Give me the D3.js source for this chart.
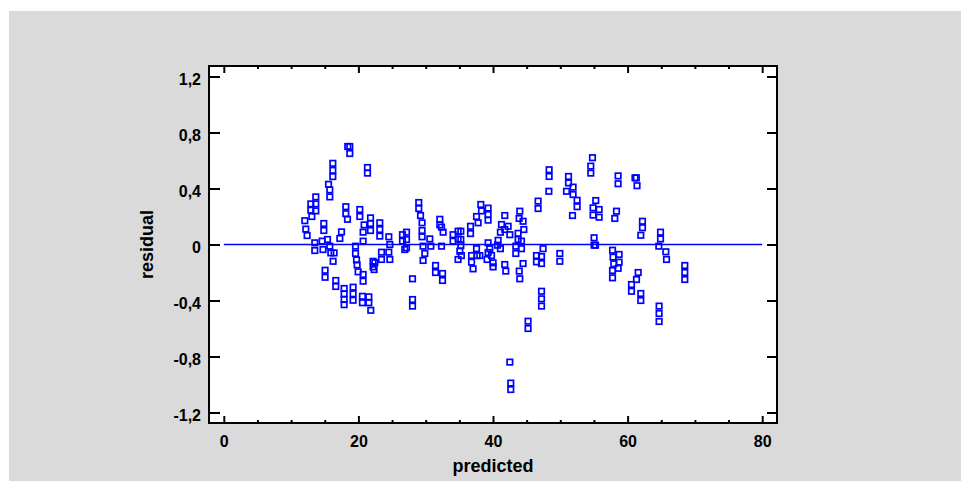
<!DOCTYPE html>
<html>
<head>
<meta charset="utf-8">
<script src="https://cdn.jsdelivr.net/npm/d3@7"></script>
<style>
  body { margin: 0; background: #fff; }
  svg { display: block; font-family: "Liberation Sans", Arial, sans-serif; }
  .tick text { font-weight: bold; font-size: 16px; fill: #000; }
</style>
</head>
<body>
<svg id="chart" width="961" height="481"></svg>
<script>
// Residuals vs predicted values (grouped left to right)
var predicted = [
  12.04, 12.18, 12.38, 12.93, 12.93, 13.08, 13.67, 13.67, 13.67, 13.52, 13.52,
  14.61, 15.41, 14.74, 15.75, 15.9, 16.39, 16.24, 14.86, 14.86, 15.05, 15.05, 15.56, 15.75, 15.75, 16.2, 16.2, 16.2, 16.64, 16.64,
  17.49, 17.24, 18.13, 18.13, 18.38, 18.42, 18.72, 18.72, 17.88, 17.88, 17.88, 17.88, 19.21, 19.21, 19.21,
  19.57, 19.57, 19.72, 19.81, 20.21, 20.21, 19.96, 20.7, 20.7, 20.85, 20.7, 20.7, 20.6, 20.6,
  21.35, 21.35, 21.55, 21.55, 21.84, 21.8, 21.8, 21.8, 22.18, 22.18, 22.44, 22.33,
  23.18, 23.18, 23.18, 24.52, 24.67, 24.52, 23.43, 23.43, 24.67,
  26.55, 26.55, 27.15, 27.15, 27.15, 26.89, 28.04, 28.04, 28.04,
  28.97, 28.97, 29.23, 29.46, 29.46, 29.46, 29.61, 29.87, 29.61, 30.61, 30.76, 31.46, 31.46, 32.5, 32.5, 32.1, 32.1, 32.35, 32.59, 32.35,
  34.07, 34.07, 34.81, 34.81, 35.22, 35.22, 35.22, 35.07, 34.81, 35.3,
  36.66, 36.66, 37.55, 37.79, 38.19, 38.29, 39.27, 39.27, 39.27, 37.55, 37.64, 36.81, 36.81, 37.04, 38.04,
  39.27, 39.52, 39.27, 39.78, 39.12, 40.01, 40.01, 40.76, 40.67, 41.1, 41.75, 41.26, 41.1, 41.75, 42.25, 42.5, 41.75, 41.9, 42.5, 42.64, 42.64,
  43.98, 43.88, 44.47, 44.58, 43.73, 43.73, 44.23, 44.23, 43.39, 43.39, 44.47, 43.9, 43.98, 45.21, 45.21,
  46.7, 46.7, 46.46, 46.46, 47.21, 47.21, 47.44, 47.21, 47.21, 47.21,
  48.34, 48.34, 48.3, 49.93, 49.93, 51.22, 51.22, 50.92, 51.9, 51.9, 52.5, 52.5, 51.81,
  54.78, 54.53, 54.53, 55.27, 54.87, 54.87, 55.77, 55.77, 55.02, 55.02, 55.23,
  58.59, 58.59, 58.35, 58.1, 57.76, 57.84, 57.95, 57.76, 57.76, 58.74, 58.74, 58.6,
  61.1, 61.3, 61.4, 62.21, 62.21, 61.96, 61.57, 61.32, 60.58, 60.58, 61.96, 61.96,
  64.89, 64.89, 64.64, 65.68, 65.78, 64.68, 64.68, 64.68,
  68.5, 68.5, 68.5
];
var residual = [
  0.17, 0.11, 0.064, 0.29, 0.245, 0.2, 0.34, 0.29, 0.24, 0.012, -0.043,
  0.024, 0.036, -0.036, -0.012, -0.06, -0.06, -0.12, 0.15, 0.1, -0.184, -0.234, 0.43, 0.39, 0.34, 0.58, 0.53, 0.485, -0.257, -0.3,
  0.09, 0.043, 0.27, 0.22, 0.18, 0.70, 0.70, 0.65, -0.314, -0.352, -0.393, -0.43, -0.305, -0.352, -0.398,
  -0.012, -0.064, -0.11, -0.146, 0.25, 0.2, -0.195, -0.214, -0.262, 0.14, 0.088, 0.024, -0.37, -0.416,
  0.55, 0.51, -0.374, -0.416, -0.47, 0.19, 0.15, 0.1, -0.12, -0.16, -0.13, -0.179,
  0.155, 0.107, 0.06, 0.055, 0.0, -0.055, -0.055, -0.107, -0.107,
  0.07, 0.024, 0.088, 0.036, -0.024, -0.036, -0.245, -0.393, -0.44,
  0.30, 0.257, 0.207, 0.155, 0.1, 0.055, -0.012, -0.064, -0.114, 0.04, -0.012, -0.15, -0.2, -0.207, -0.257, 0.18, 0.14, 0.124, 0.088, -0.012,
  0.07, 0.024, 0.095, 0.04, 0.095, 0.036, -0.007, -0.048, -0.107, -0.079,
  0.13, 0.078, 0.2, 0.155, 0.286, 0.24, 0.26, 0.214, 0.174, -0.03, -0.079, -0.079, -0.126, -0.174, -0.079,
  0.012, -0.03, -0.057, -0.079, -0.107, -0.131, -0.16, 0.03, -0.005, -0.03, 0.207, 0.143, 0.088, 0.107, 0.13, 0.07, -0.143, -0.19, -0.84, -0.99, -1.036,
  0.238, 0.186, 0.166, 0.107, 0.08, 0.036, 0.024, -0.03, -0.012, -0.064, -0.136, -0.19, -0.245, -0.548, -0.6,
  0.31, 0.257, -0.079, -0.124, -0.086, -0.136, -0.03, -0.334, -0.388, -0.44,
  0.534, 0.486, 0.38, -0.064, -0.12, 0.486, 0.44, 0.38, 0.41, 0.357, 0.316, 0.27, 0.207,
  0.62, 0.56, 0.51, 0.314, 0.262, 0.21, 0.25, 0.195, 0.048, -0.005, -0.005,
  0.49, 0.434, 0.238, 0.186, -0.041, -0.09, -0.138, -0.186, -0.238, -0.071, -0.126, -0.17,
  0.476, 0.476, 0.42, 0.166, 0.12, 0.066, -0.2, -0.25, -0.286, -0.334, -0.35, -0.4,
  0.088, 0.04, -0.012, -0.052, -0.107, -0.44, -0.493, -0.55,
  -0.15, -0.2, -0.25
];
var xTicks = [0, 20, 40, 60, 80];
var xMinorTicks = [5, 10, 15, 25, 30, 35, 45, 50, 55, 65, 70, 75];
var yTicks = [-1.2, -0.8, -0.4, 0, 0.4, 0.8, 1.2];
var xTitle = "predicted";
var yTitle = "residual";

var points = predicted.map(function(p, i) { return {x: p, y: residual[i]}; });

var svg = d3.select("#chart");
var pLeft = 209, pRight = 777, pTop = 66, pBottom = 423;

// grey panel behind everything
svg.append("rect")
  .attr("x", 9).attr("y", 11)
  .attr("width", 952).attr("height", 470)
  .attr("fill", "#dadada");

svg.append("rect")
  .attr("x", pLeft).attr("y", pTop)
  .attr("width", pRight - pLeft).attr("height", pBottom - pTop)
  .attr("fill", "#fff");

var x = d3.scaleLinear().domain([-2.2, 82.2]).range([pLeft, pRight]);
var y = d3.scaleLinear().domain([-1.275, 1.275]).range([pBottom, pTop]);

function fmtY(d) { return d === 0 ? "0" : d.toFixed(1).replace(".", ","); }
function fmtX(d) { return String(d); }

// axes, ticks point inward
var gl = svg.append("g").attr("transform", "translate(" + pLeft + ",0)")
  .call(d3.axisLeft(y).tickValues(yTicks).tickFormat(fmtY).tickSize(-11).tickPadding(8));
gl.selectAll("text").attr("dy", "7.5");

svg.append("g").attr("transform", "translate(" + pRight + ",0)")
  .call(d3.axisRight(y).tickValues(yTicks).tickFormat("").tickSize(-10));

svg.append("g").attr("transform", "translate(0," + pBottom + ")")
  .call(d3.axisBottom(x).tickValues(xTicks).tickFormat(fmtX).tickSize(-7).tickPadding(13));

svg.append("g").attr("transform", "translate(0," + pBottom + ")")
  .call(d3.axisBottom(x).tickValues(xMinorTicks).tickFormat("").tickSize(-3));

svg.append("g").attr("transform", "translate(0," + pTop + ")")
  .call(d3.axisTop(x).tickValues(xTicks).tickFormat("").tickSize(-7));

svg.append("g").attr("transform", "translate(0," + pTop + ")")
  .call(d3.axisTop(x).tickValues(xMinorTicks).tickFormat("").tickSize(-3));

svg.selectAll(".domain").remove();
svg.selectAll(".tick line").attr("stroke", "#000").attr("stroke-width", 2);

// frame
svg.append("rect")
  .attr("x", pLeft).attr("y", pTop)
  .attr("width", pRight - pLeft).attr("height", pBottom - pTop)
  .attr("fill", "none").attr("stroke", "#000").attr("stroke-width", 2);

// zero line
svg.append("line")
  .attr("x1", x(0)).attr("x2", x(80))
  .attr("y1", y(0)).attr("y2", y(0))
  .attr("stroke", "#0000ff").attr("stroke-width", 1.4);

var s = 5.5;
svg.append("g").selectAll("rect")
  .data(points)
  .enter()
  .append("rect")
  .attr("x", function(d) { return x(d.x) - s / 2; })
  .attr("y", function(d) { return y(d.y) - s / 2; })
  .attr("width", s).attr("height", s)
  .attr("fill", "none")
  .attr("stroke", "#0000ff")
  .attr("stroke-width", 1.7);

// axis titles
svg.append("text")
  .attr("x", (pLeft + pRight) / 2).attr("y", 472)
  .attr("text-anchor", "middle")
  .style("font-weight", "bold").style("font-size", "18px")
  .text(xTitle);

svg.append("text")
  .attr("transform", "translate(153," + ((pTop + pBottom) / 2) + ") rotate(-90)")
  .attr("text-anchor", "middle")
  .style("font-weight", "bold").style("font-size", "18px")
  .text(yTitle);
</script>
</body>
</html>
